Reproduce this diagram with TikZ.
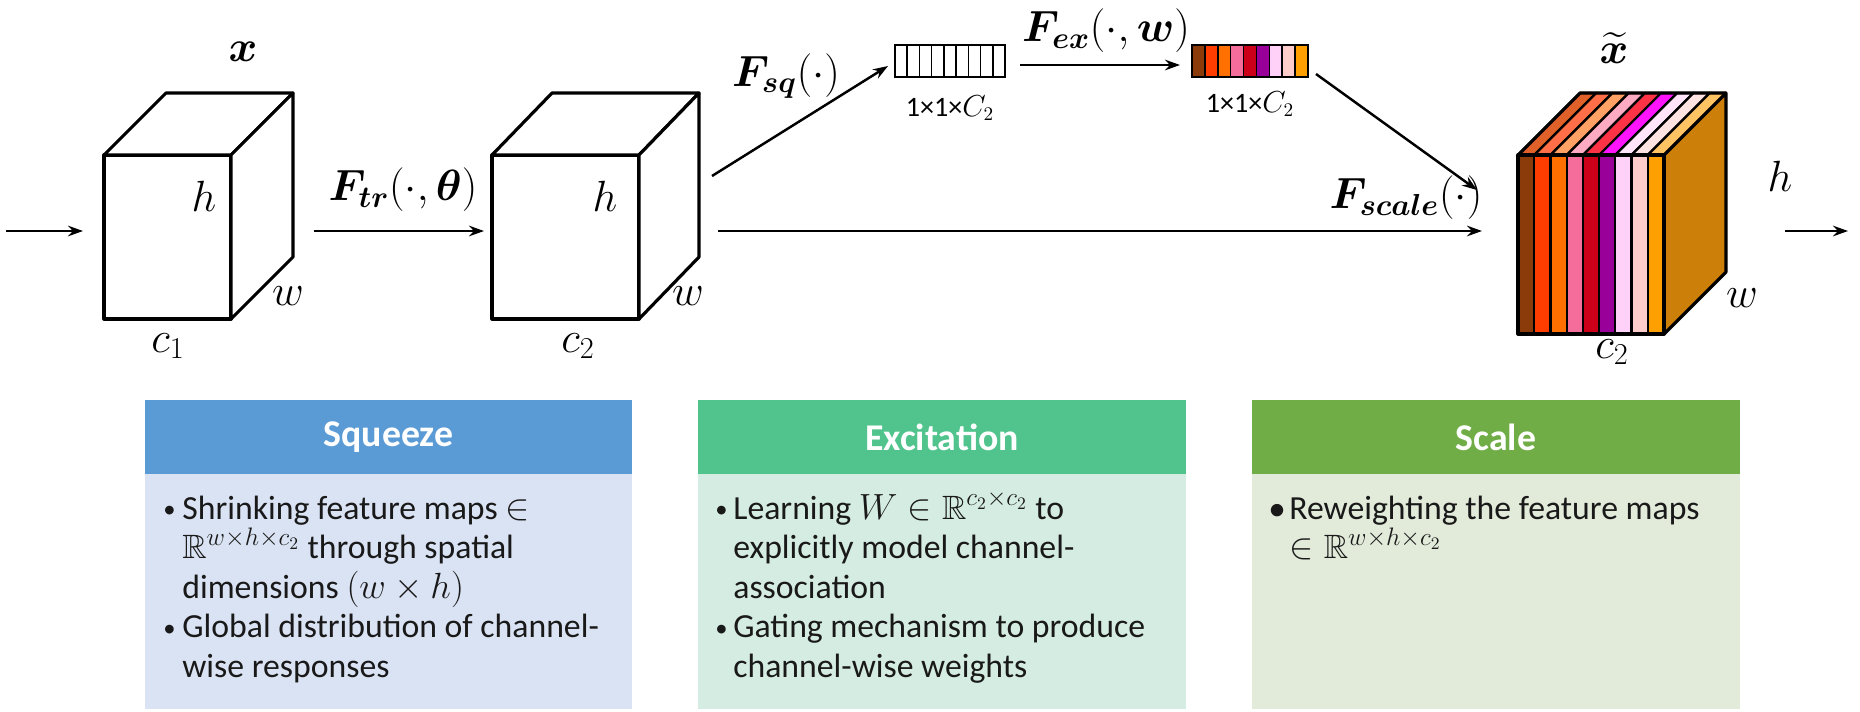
\documentclass[tikz,border=0pt]{standalone}
\usepackage{amsmath,amssymb}
\usepackage{bm}
\usepackage{fontspec}
\setmainfont{Carlito}
\usetikzlibrary{arrows.meta}

\definecolor{sqhead}{RGB}{91,155,213}
\definecolor{sqbody}{RGB}{218,227,243}
\definecolor{exhead}{RGB}{80,196,140}
\definecolor{exbody}{RGB}{213,236,227}
\definecolor{schead}{RGB}{112,173,71}
\definecolor{scbody}{RGB}{226,235,218}
\definecolor{sideface}{RGB}{204,128,10}
% front stripe colours
\definecolor{fa}{RGB}{139,58,10}
\definecolor{fb}{RGB}{255,61,0}
\definecolor{fc}{RGB}{255,112,0}
\definecolor{fd}{RGB}{245,110,155}
\definecolor{fe}{RGB}{204,0,24}
\definecolor{ff}{RGB}{153,0,153}
\definecolor{fg}{RGB}{255,208,248}
\definecolor{fh}{RGB}{255,204,204}
\definecolor{fi}{RGB}{255,160,0}
% top stripe colours
\definecolor{ta}{RGB}{224,96,42}
\definecolor{tb}{RGB}{255,110,70}
\definecolor{tc}{RGB}{255,160,100}
\definecolor{td}{RGB}{255,170,195}
\definecolor{te}{RGB}{255,50,70}
\definecolor{tf}{RGB}{255,20,255}
\definecolor{tg}{RGB}{255,228,250}
\definecolor{th}{RGB}{255,226,226}
\definecolor{ti}{RGB}{255,195,100}

\tikzset{
  edge/.style={line width=1.8pt, line join=round},
  arr/.style={line width=1.4pt, -{Stealth[length=8.5pt,width=6pt]}},
  lbl/.style={font=\fontsize{23.5}{27}\selectfont, inner sep=0pt},
  small/.style={font=\fontsize{16}{18}\selectfont, inner sep=0pt},
  hdr/.style={font=\fontsize{21.5}{24}\selectfont\bfseries, text=white, inner sep=0pt},
  body/.style={font=\fontsize{19.2}{23}\selectfont, inner sep=0pt, anchor=base west, text=black!90},
  bul/.style={font=\fontsize{14}{18}\selectfont, inner sep=0pt, anchor=base west, text=black!90},
  cell/.style={line width=0.9pt},
}

\begin{document}
\begin{tikzpicture}[x=0.02cm,y=-0.02cm]
\useasboundingbox (0,0) rectangle (1860,711);

% ---------- cube 1 ----------
\draw[edge,fill=white] (104,155) rectangle (231,319);
\draw[edge,fill=white] (104,155) -- (166,93) -- (293,93) -- (231,155) -- cycle;
\draw[edge,fill=white] (231,155) -- (293,93) -- (293,257) -- (231,319) -- cycle;
\node[lbl] (xin) at (243,52) {$\bm{x}$};
\node[lbl] (h1) at (204,196) {$h$};
\node[lbl] (w1) at (288,296) {$w$};
\node[lbl] (c1) at (168,346) {$c_1$};

% ---------- cube 2 ----------
\draw[edge,fill=white] (492,155) rectangle (639,319);
\draw[edge,fill=white] (492,155) -- (552,93) -- (699,93) -- (639,155) -- cycle;
\draw[edge,fill=white] (639,155) -- (699,93) -- (699,257) -- (639,319) -- cycle;
\node[lbl] (h2) at (605,196) {$h$};
\node[lbl] (w2) at (688,296) {$w$};
\node[lbl] (c2) at (578,346) {$c_2$};

% ---------- arrows ----------
\coordinate (in0) at (6,231);
\coordinate (in1) at (83,231);
\draw[arr] (in0) -- (in1);
\coordinate (c1o) at (314,231);
\coordinate (c2i) at (484,231);
\draw[arr] (c1o) -- (c2i);
\node[lbl] (ftr) at (403,190) {$\bm{F}_{\bm{tr}}(\cdot,\bm{\theta})$};

% squeeze vector
\node[draw, cell, minimum width=2.2cm, minimum height=0.64cm, inner sep=0pt] (v1) at (950,61) {};
\foreach \i in {1,...,8} {
  \draw[cell] (895+12.222*\i,45) -- (895+12.222*\i,77);
}
\node[small] (v1l) at (950,108) {1×1×$C_2$};
\coordinate (c2s) at (712,176);
\coordinate (v1i) at (888,66);
\draw[arr] (c2s) -- (v1i);
\node[lbl] (fsq) at (786,76) {$\bm{F}_{\bm{sq}}(\cdot)$};

% excitation vector
\foreach \i/\c in {0/fa,1/fb,2/fc,3/fd,4/fe,5/ff,6/fg,7/fh,8/fi} {
  \fill[\c] (1192+12.888*\i,45) rectangle (1192+12.888*\i+12.888,77);
  \draw[cell] (1192+12.888*\i,45) -- (1192+12.888*\i,77);
}
\node[draw, cell, minimum width=2.32cm, minimum height=0.64cm, inner sep=0pt] (v2) at (1250,61) {};
\node[small] (v2l) at (1250,104) {1×1×$C_2$};
\coordinate (v1o) at (1020,65);
\coordinate (v2i) at (1180,65);
\draw[arr] (v1o) -- (v2i);
\node[lbl] (fex) at (1106,31) {$\bm{F}_{\bm{ex}}(\cdot,\bm{w})$};

% ---------- output cube ----------
\foreach \i/\f/\t in {0/fa/ta,1/fb/tb,2/fc/tc,3/fd/td,4/fe/te,5/ff/tf,6/fg/tg,7/fh/th,8/fi/ti} {
  \pgfmathsetmacro\xa{1518+16.222*\i}
  \pgfmathsetmacro\xb{1518+16.222*(\i+1)}
  \draw[line width=1.3pt, fill=\f] (\xa,155) rectangle (\xb,334);
  \draw[line width=1.3pt, line join=round, fill=\t] (\xa,155) -- (\xa+62,93) -- (\xb+62,93) -- (\xb,155) -- cycle;
}
\draw[edge, fill=sideface] (1664,155) -- (1726,93) -- (1726,272) -- (1664,334) -- cycle;
\draw[edge] (1518,155) rectangle (1664,334);
\draw[edge] (1518,155) -- (1580,93) -- (1726,93);
\node[lbl] (xout) at (1614,48) {$\widetilde{\bm{x}}$};
\node[lbl] (h3) at (1780,176) {$h$};
\node[lbl] (w3) at (1742,298) {$w$};
\node[lbl] (c3) at (1612,352) {$c_2$};

\coordinate (c2m) at (718,231);
\coordinate (oi) at (1482,231);
\draw[arr] (c2m) -- (oi);
\node[lbl] (fsc) at (1406,198) {$\bm{F}_{\bm{scale}}(\cdot)$};
\coordinate (v2o) at (1316,74);
\coordinate (oit) at (1477,190);
\draw[arr] (v2o) -- (oit);
\coordinate (oo) at (1785,231);
\coordinate (oe) at (1848,231);
\draw[arr] (oo) -- (oe);

% ---------- text boxes ----------
\fill[sqbody] (145,474) rectangle (632,709);
\fill[sqhead] (145,400) rectangle (632,474);
\node[hdr] (sqt) at (388.5,437) {Squeeze};
\node[bul] (sqb1) at (163,517) {•};
\node[body] (sq1) at (182,519) {Shrinking feature maps $\in$};
\node[body] (sq2) at (182,558.5) {$\mathbb{R}^{w\times h\times c_2}$ through spatial};
\node[body] (sq3) at (182,598) {dimensions $(w\times h)$};
\node[bul] (sqb2) at (163,636) {•};
\node[body] (sq4) at (182,637.5) {Global distribution of channel-};
\node[body] (sq5) at (182,677) {wise responses};

\fill[exbody] (698,474) rectangle (1186,709);
\fill[exhead] (698,400) rectangle (1186,474);
\node[hdr] (ext) at (942,437) {Excitation};
\node[bul] (exb1) at (715,517) {•};
\node[body] (ex1) at (733,519) {Learning $W\in\mathbb{R}^{c_2\times c_2}$ to};
\node[body] (ex2) at (733,558.5) {explicitly model channel-};
\node[body] (ex3) at (733,598) {association};
\node[bul] (exb2) at (715,636) {•};
\node[body] (ex4) at (733,637.5) {Gating mechanism to produce};
\node[body] (ex5) at (733,677) {channel-wise weights};

\fill[scbody] (1252,474) rectangle (1740,709);
\fill[schead] (1252,400) rectangle (1740,474);
\node[hdr] (sct) at (1496,437) {Scale};
\node[body, font=\fontsize{20}{20}\selectfont] (scb1) at (1268,520) {•};
\node[body] (sc1) at (1289,519) {Reweighting the feature maps};
\node[body] (sc2) at (1289,558.5) {$\in\mathbb{R}^{w\times h\times c_2}$};
\end{tikzpicture}
\end{document}
